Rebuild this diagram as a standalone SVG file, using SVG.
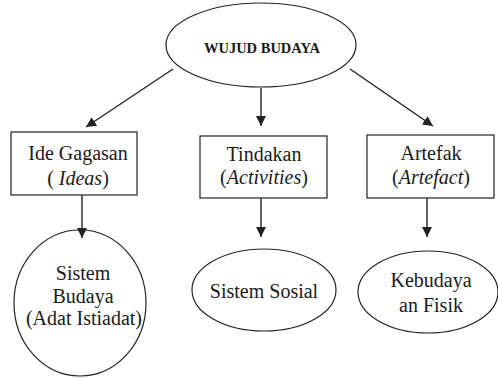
<svg xmlns="http://www.w3.org/2000/svg" width="498" height="379" viewBox="0 0 498 379">
<style>
.s{fill:#fff;stroke:#222;stroke-width:1.2}
.c{stroke:#222;stroke-width:1.4;fill:none;marker-end:url(#ah)}
text{font-family:"Liberation Serif","Times New Roman",serif;fill:#1a1a1a;text-anchor:middle;font-size:20px}
.i{font-style:italic}
.b{font-weight:bold;font-size:14.5px}
</style>
<defs>
<marker id="ah" viewBox="0 0 10 10" refX="10" refY="5" markerWidth="10" markerHeight="10" markerUnits="userSpaceOnUse" orient="auto">
<path d="M0,0 L10,5 L0,10 z" fill="#222"/>
</marker>
</defs>
<g id="wujud">
<ellipse class="s" cx="261" cy="45" rx="95" ry="42"/>
<text class="b" x="262" y="53">WUJUD BUDAYA</text>
</g>
<g id="ide">
<rect class="s" x="11" y="132" width="126" height="63"/>
<text x="78" y="160">Ide Gagasan</text>
<text x="78" y="185">( <tspan class="i">Ideas</tspan>)</text>
</g>
<g id="tindakan">
<rect class="s" x="200" y="136" width="127" height="62"/>
<text x="264" y="161">Tindakan</text>
<text x="264" y="184">(<tspan class="i">Activities</tspan>)</text>
</g>
<g id="artefak">
<rect class="s" x="367" y="135" width="127" height="63"/>
<text x="431" y="160">Artefak</text>
<text x="431" y="184">(<tspan class="i">Artefact</tspan>)</text>
</g>
<g id="sistem-budaya">
<ellipse class="s" cx="80" cy="303" rx="66" ry="73"/>
<text x="83" y="280">Sistem</text>
<text x="83" y="303">Budaya</text>
<text x="84" y="325">(Adat Istiadat)</text>
</g>
<g id="sistem-sosial">
<ellipse class="s" cx="264" cy="290" rx="72" ry="41"/>
<text x="264" y="298">Sistem Sosial</text>
</g>
<g id="kebudayaan-fisik">
<ellipse class="s" cx="428" cy="292" rx="70" ry="41"/>
<text x="431" y="287">Kebudaya</text>
<text x="431" y="312">an Fisik</text>
</g>
<g id="connectors">
<line class="c" x1="173" y1="69" x2="86" y2="127"/>
<line class="c" x1="261" y1="88" x2="261" y2="126"/>
<line class="c" x1="350" y1="69" x2="433" y2="126"/>
<line class="c" x1="82" y1="195" x2="82" y2="238"/>
<line class="c" x1="261" y1="198" x2="261" y2="237"/>
<line class="c" x1="427" y1="198" x2="427" y2="237"/>
</g>
</svg>
